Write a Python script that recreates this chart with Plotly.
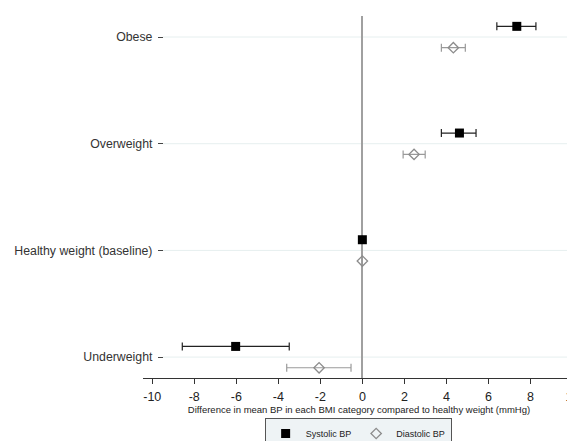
import plotly.graph_objects as go

categories = ["Underweight", "Healthy weight (baseline)", "Overweight", "Obese"]
sys_mean = [-6.03, 0.0, 4.62, 7.35]
sys_lo = [-8.57, None, 3.76, 6.40]
sys_hi = [-3.48, None, 5.41, 8.26]
dia_mean = [-2.06, 0.0, 2.46, 4.33]
dia_lo = [-3.60, None, 1.94, 3.76]
dia_hi = [-0.54, None, 2.99, 4.90]
x_ticks = [-10, -8, -6, -4, -2, 0, 2, 4, 6, 8, 10]

OFF = 0.1
FONT = "Arial, Liberation Sans, sans-serif"


def err(mean, lo, hi):
    plus = [None if h is None else h - m for m, h in zip(mean, hi)]
    minus = [None if l is None else m - l for m, l in zip(mean, lo)]
    return plus, minus


pos = list(range(len(categories)))
sp, sm = err(sys_mean, sys_lo, sys_hi)
dp, dm = err(dia_mean, dia_lo, dia_hi)

fig = go.Figure()
fig.add_trace(go.Scatter(
    x=sys_mean, y=[p + OFF for p in pos], mode="markers", name="Systolic BP",
    marker=dict(symbol="square", size=9, color="black"),
    error_x=dict(type="data", array=sp, arrayminus=sm, color="#222222", thickness=1.2, width=4),
))
fig.add_trace(go.Scatter(
    x=dia_mean, y=[p - OFF for p in pos], mode="markers", name="Diastolic BP",
    marker=dict(symbol="diamond-open", size=8, color="#8c8c8c", line=dict(width=1.3)),
    error_x=dict(type="data", array=dp, arrayminus=dm, color="#9a9a9a", thickness=1.2, width=4),
))

YPOS = 0.046
for p in pos:
    fig.add_shape(type="line", xref="paper", yref="y", x0=YPOS, x1=1, y0=p, y1=p,
                  line=dict(color="#e6efef", width=1), layer="below")

fig.update_layout(
    width=567, height=433,
    margin=dict(l=135, r=0, t=8, b=63, autoexpand=False),
    paper_bgcolor="white", plot_bgcolor="white",
    font=dict(family=FONT, color="#222222"),
    showlegend=True,
    legend=dict(orientation="h", x=0.498, xanchor="center", y=-0.1105, yanchor="top",
                bgcolor="#eef3f5", bordercolor="#555555", borderwidth=1,
                font=dict(size=9, color="#222222"), itemwidth=30, tracegroupgap=0),
    xaxis=dict(
        range=[-10.44, 10.12], tickmode="array", tickvals=x_ticks,
        ticktext=[str(t) for t in x_ticks], automargin=False,
        ticklabeloverflow="allow",
        showgrid=False, zeroline=True, zerolinecolor="#a0a0a0", zerolinewidth=1.5,
        showline=True, linecolor="#333333", linewidth=1,
        ticks="outside", ticklen=5, tickcolor="#333333", ticklabelstandoff=2,
        tickfont=dict(size=12.5, color="#222222"),
        title=dict(text="Difference in mean BP in each BMI category compared to healthy weight (mmHg)",
                   font=dict(size=9.5, color="#222222"), standoff=3),
    ),
    yaxis=dict(
        range=[-0.196, 3.197], anchor="free", position=YPOS, automargin=False,
        tickmode="array", tickvals=pos, ticktext=categories,
        showgrid=False, zeroline=False, showline=False,
        ticks="outside", ticklen=5, tickcolor="#444444", ticklabelstandoff=3,
        tickfont=dict(size=12.3, color="#333333"),
    ),
)

fig.write_html("out.html")
